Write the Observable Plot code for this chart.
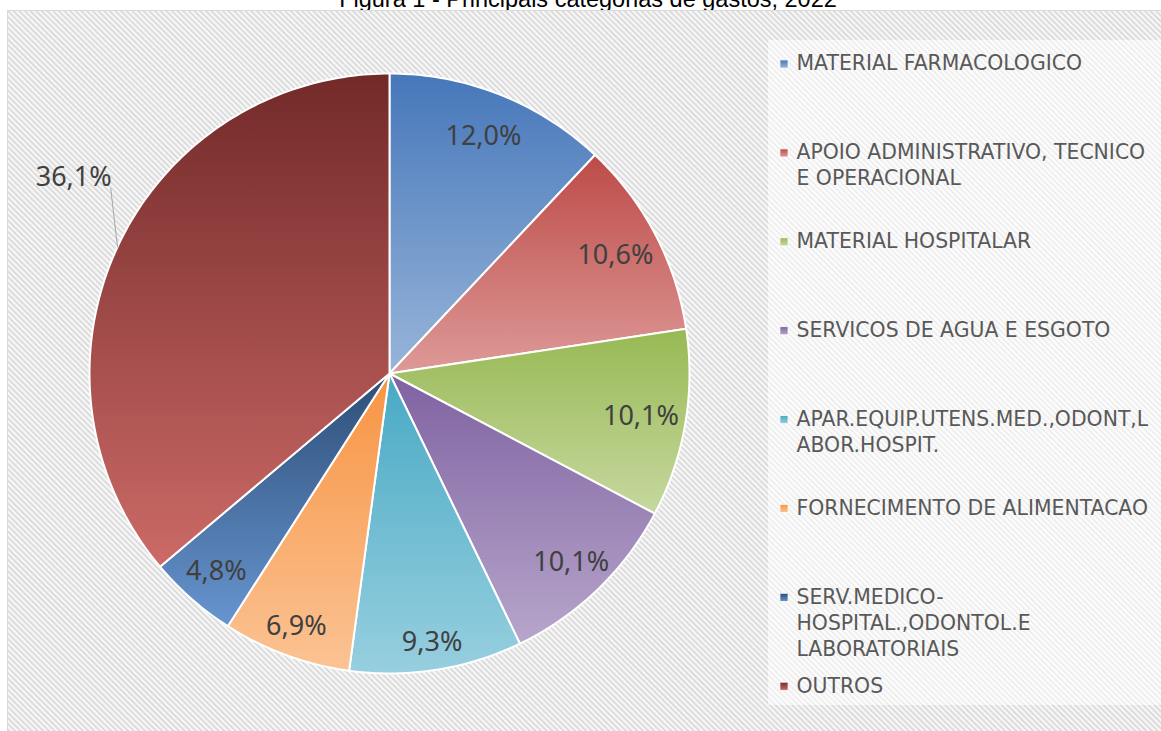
<!DOCTYPE html>
<html><head><meta charset="utf-8">
<script src="https://cdn.jsdelivr.net/npm/d3@7"></script>
<script src="https://cdn.jsdelivr.net/npm/@observablehq/plot@0.6"></script>
<style>
html,body{margin:0;padding:0;background:#fff;overflow:hidden;}
#title{position:relative;height:10px;overflow:hidden;width:1161px;}
#title div{position:absolute;left:0;top:-13px;width:1161px;text-align:center;padding-left:15px;box-sizing:border-box;font:23.5px/24px "Liberation Sans",Arial,sans-serif;color:#000;white-space:nowrap;}
#chart svg{display:block;}
</style></head><body>
<div id="title"><div>Figura 1 - Principais categorias de gastos, 2022</div></div>
<div id="chart"></div>
<script>
// ---- data ----
const categories = [
  "MATERIAL FARMACOLOGICO",
  "APOIO ADMINISTRATIVO, TECNICO E OPERACIONAL",
  "MATERIAL HOSPITALAR",
  "SERVICOS DE AGUA E ESGOTO",
  "APAR.EQUIP.UTENS.MED.,ODONT,LABOR.HOSPIT.",
  "FORNECIMENTO DE ALIMENTACAO",
  "SERV.MEDICO-HOSPITAL.,ODONTOL.E LABORATORIAIS",
  "OUTROS"
];
const shares = [12.0, 10.6, 10.1, 10.1, 9.3, 6.9, 4.8, 36.1];
const legendLabels = [
  "MATERIAL FARMACOLOGICO",
  "APOIO ADMINISTRATIVO, TECNICO\nE OPERACIONAL",
  "MATERIAL HOSPITALAR",
  "SERVICOS DE AGUA E ESGOTO",
  "APAR.EQUIP.UTENS.MED.,ODONT,L\nABOR.HOSPIT.",
  "FORNECIMENTO DE ALIMENTACAO",
  "SERV.MEDICO-\nHOSPITAL.,ODONTOL.E\nLABORATORIAIS",
  "OUTROS"
];
const topColors    = ["#4677ba","#bd4b48","#98b954","#7f62a1","#48a9c4","#f79443","#2d4e77","#722a29"];
const bottomColors = ["#98b5d9","#dd9a98","#c6d89f","#b7a6cb","#97cfdf","#fbc394","#6795d0","#cc6a67"];

// ---- layout ----
const W = 1161, H = 721;
const cx = 389, cy = 363, R = 300;
const px2x = p => (p - cx) / R;
const py2y = p => (cy - p) / R;

const data = categories.map((c, i) => ({i, category: c, value: shares[i], legend: legendLabels[i],
  label: shares[i].toFixed(1).replace(".", ",") + "%"}));
const arcs = d3.pie().sort(null).value(d => d.value)(data);

// slice outlines (center -> arc -> center), computed from pie angles
const slicePts = [];
arcs.forEach(a => {
  const n = Math.max(2, Math.ceil((a.endAngle - a.startAngle) / (2 * Math.PI) * 360));
  slicePts.push({i: a.data.i, x: 0, y: 0});
  for (let k = 0; k <= n; k++) {
    const t = a.startAngle + (a.endAngle - a.startAngle) * k / n;
    slicePts.push({i: a.data.i, x: Math.sin(t), y: Math.cos(t)});
  }
  slicePts.push({i: a.data.i, x: 0, y: 0});
});

const inside = arcs.filter(a => a.data.value < 30).map(a => {
  const m = (a.startAngle + a.endAngle) / 2;
  const r = 0.85 + 0.06 * Math.pow(Math.max(0, -Math.cos(m)), 3);
  return {label: a.data.label, x: r * Math.sin(m), y: r * Math.cos(m)};
});
const outsideArcs = arcs.filter(a => a.data.value >= 30);
const leader = [], outside = [];
outsideArcs.forEach(a => {
  const m = (a.startAngle + a.endAngle) / 2;
  const m2 = m + 8.6 * Math.PI / 180, r2 = 1.115;
  leader.push({k: a.data.i, x: Math.sin(m), y: Math.cos(m)});
  leader.push({k: a.data.i, x: r2 * Math.sin(m2), y: r2 * Math.cos(m2)});
  outside.push({label: a.data.label, x: r2 * Math.sin(m2), y: r2 * Math.cos(m2)});
});

// legend rows
const legendRows = data.map((d, j) => ({...d, lx: px2x(783.5), tx: px2x(796), ly: py2y(53.5 + j * 88.9)}));

const fontFam = "'Noto Sans', 'Open Sans', sans-serif";
const legendFont = "'DejaVu Sans', Verdana, sans-serif";

const svg = Plot.plot({
  width: W, height: H,
  margin: 0,
  x: {domain: [-1, 1], range: [cx - R, cx + R], axis: null},
  y: {domain: [-1, 1], range: [cy + R, cy - R], axis: null},
  color: {type: "identity"},
  marks: [
    // chart area background + border
    Plot.rect([0], {x1: px2x(7.5), x2: px2x(1170), y1: py2y(0.5), y2: py2y(730), fill: "url(#hatch)", stroke: "#d9d9d9", strokeWidth: 1}),
    // legend area
    Plot.rect([0], {x1: px2x(768), x2: px2x(1170), y1: py2y(30), y2: py2y(695), fill: "url(#hatchLight)"}),
    // slices
    Plot.line(slicePts, {x: "x", y: "y", z: "i", fill: d => `url(#g${d.i})`, stroke: "#fff", strokeWidth: 2, strokeLinejoin: "round", curve: "linear"}),
    // leader line
    Plot.line(leader, {x: "x", y: "y", z: "k", stroke: "#a6a6a6", strokeWidth: 1}),
    // percentage labels
    Plot.text(inside, {x: "x", y: "y", text: "label", fontSize: 27, fill: "#404040", fontFamily: fontFam}),
    Plot.text(outside, {x: "x", y: "y", text: "label", fontSize: 27, fill: "#404040", fontFamily: fontFam, textAnchor: "end", dx: 1, dy: -11}),
    // legend
    Plot.dot(legendRows, {x: "lx", y: "ly", symbol: "square", r: 4.6, fill: d => `url(#g${d.i})`, stroke: "#fff", strokeWidth: 0.8}),
    Plot.text(legendRows, {x: "tx", y: "ly", text: "legend", textAnchor: "start", lineAnchor: "top", dy: -12, lineHeight: 1.275, fontSize: 20.4, fill: "#595959", fontFamily: legendFont})
  ]
});

let defs = `<defs>
<pattern id="hatch" patternUnits="userSpaceOnUse" width="4" height="4" patternTransform="rotate(-45)">
<rect width="4" height="4" fill="#f7f7f7"/><rect width="1.6" height="4" fill="#d6d6d6"/></pattern>
<pattern id="hatchLight" patternUnits="userSpaceOnUse" width="4" height="4" patternTransform="rotate(-45)">
<rect width="4" height="4" fill="#fdfdfd"/><rect width="1.6" height="4" fill="#ececec"/></pattern>`;
data.forEach(d => {
  defs += `<linearGradient id="g${d.i}" x1="0" y1="0" x2="0" y2="1"><stop offset="0" stop-color="${topColors[d.i]}"/><stop offset="1" stop-color="${bottomColors[d.i]}"/></linearGradient>`;
});
defs += `</defs>`;
svg.insertAdjacentHTML("afterbegin", defs);
document.getElementById("chart").appendChild(svg);
</script>
</body></html>
